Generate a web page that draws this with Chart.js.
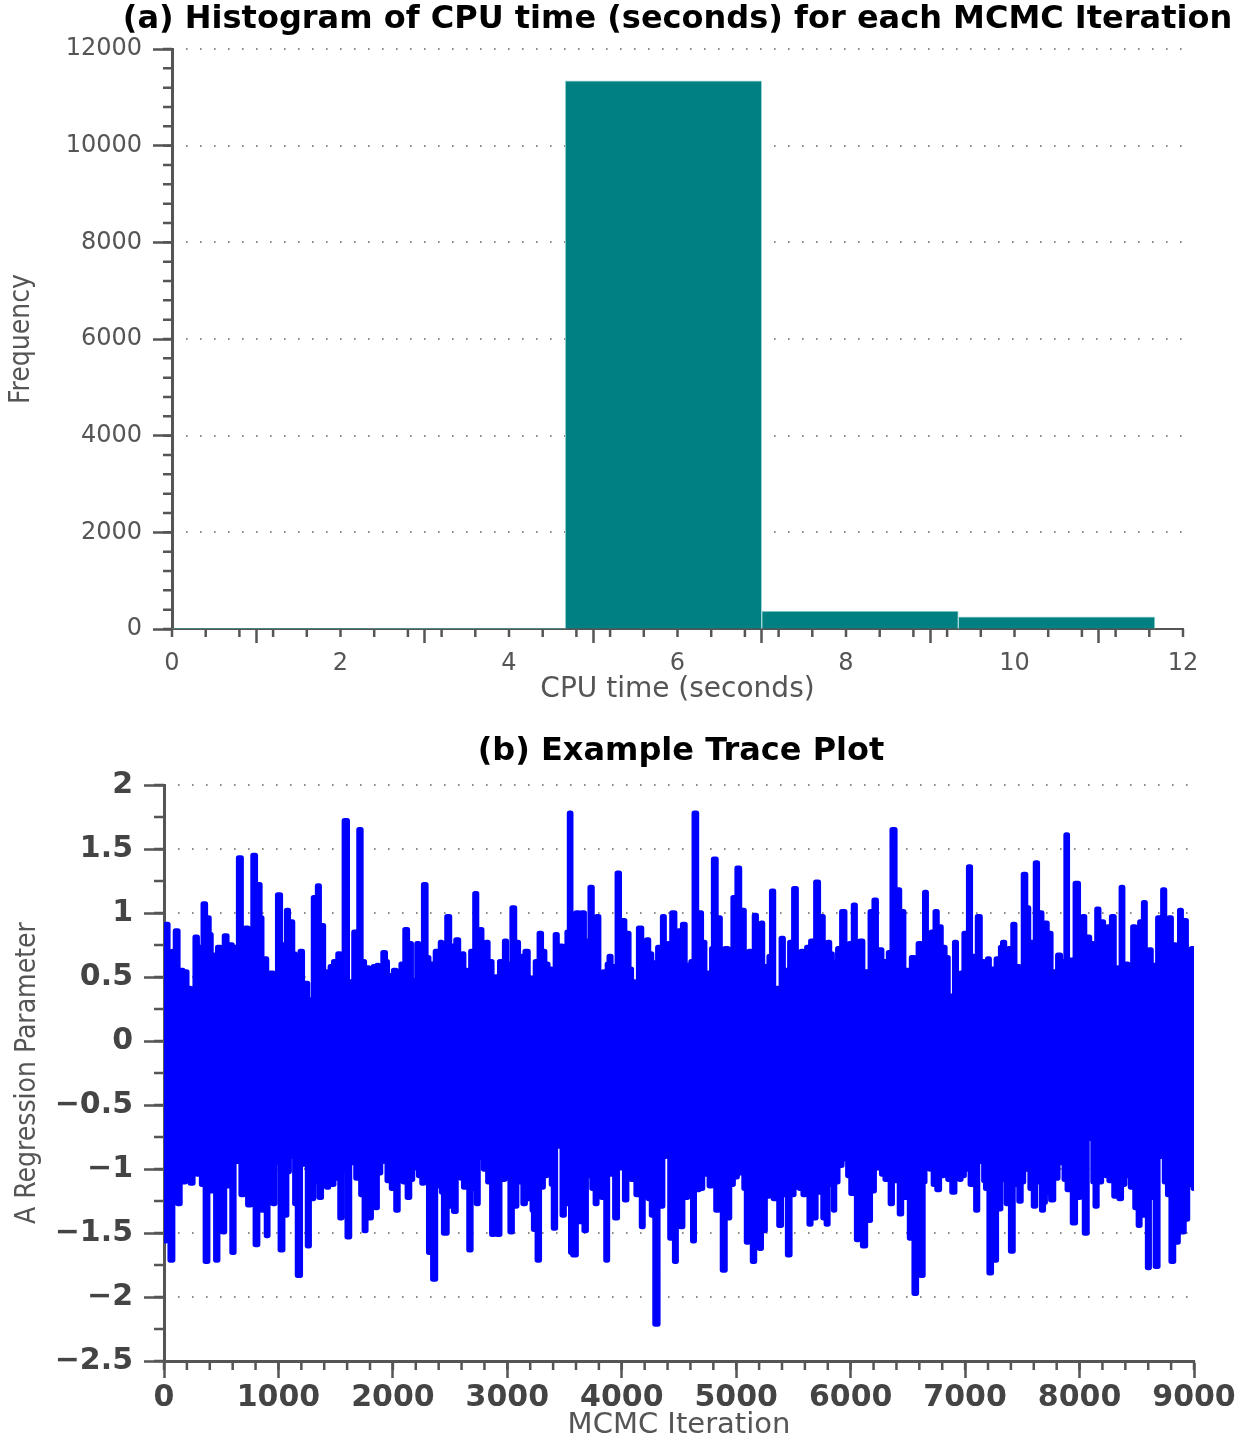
<!DOCTYPE html>
<html>
<head>
<meta charset="utf-8">
<title>CPU time and trace plot</title>
<script src="https://cdn.jsdelivr.net/npm/chart.js@4.4.0/dist/chart.umd.min.js"></script>
<style>
  body { margin: 0; background: #fff; }
  canvas { display: block; }
</style>
</head>
<body>
<canvas id="histChart" width="1246" height="710"></canvas>
<canvas id="traceChart" width="1246" height="730"></canvas>
<script>
// (a) histogram: bin edges (seconds) and counts per bin
const binEdges = [0, 2.333, 4.667, 7.0, 9.333, 11.667];
const binCounts = [3, 9, 11340, 372, 250];

// (b) trace: upper excursions (iteration, value)
const peakIters = [29, 81, 120, 157, 198, 227, 274, 315, 344, 384, 402, 425, 446, 478, 507, 536, 580, 612, 655, 696,
  728, 781, 821, 854, 888, 911, 950, 1008, 1049, 1086, 1116, 1142, 1194, 1241, 1270, 1308, 1349, 1386, 1407, 1439,
  1468, 1497, 1538, 1585, 1625, 1666, 1719, 1745, 1771, 1815, 1845, 1873, 1917, 1950, 1981, 2018, 2053, 2083, 2112, 2150,
  2173, 2193, 2222, 2252, 2281, 2310, 2339, 2385, 2426, 2484, 2519, 2560, 2588, 2616, 2645, 2683, 2724, 2750, 2776, 2820,
  2863, 2901, 2942, 2988, 3023, 3058, 3096, 3132, 3169, 3218, 3250, 3285, 3317, 3349, 3382, 3423, 3480, 3513, 3527, 3554,
  3611, 3664, 3699, 3740, 3766, 3792, 3825, 3853, 3878, 3903, 3935, 3978, 4022, 4057, 4081, 4101, 4124, 4168, 4194, 4220,
  4250, 4279, 4328, 4363, 4392, 4421, 4456, 4482, 4509, 4546, 4590, 4615, 4642, 4686, 4707, 4745, 4788, 4817, 4858, 4873,
  4917, 4946, 4981, 5024, 5062, 5077, 5106, 5120, 5164, 5195, 5223, 5269, 5296, 5324, 5359, 5368, 5409, 5446, 5485, 5513,
  5540, 5569, 5604, 5630, 5659, 5703, 5752, 5778, 5805, 5828, 5848, 5863, 5895, 5939, 5966, 5994, 6038, 6067, 6096, 6145,
  6186, 6219, 6268, 6293, 6318, 6344, 6376, 6416, 6451, 6498, 6539, 6577, 6606, 6650, 6685, 6711, 6743, 6784, 6822, 6848,
  6868, 6915, 6950, 6970, 6993, 7034, 7072, 7087, 7116, 7163, 7200, 7238, 7253, 7276, 7316, 7342, 7386, 7427, 7471, 7515,
  7547, 7561, 7590, 7625, 7669, 7701, 7736, 7783, 7820, 7852, 7884, 7931, 7980, 8006, 8033, 8076, 8111, 8155, 8202, 8222,
  8251, 8295, 8330, 8371, 8412, 8435, 8476, 8502, 8528, 8563, 8610, 8645, 8688, 8738, 8764, 8790, 8831, 8878, 8927, 8950,
  8989];
const peaks = [0.91, 0.70, 0.86, 0.55, 0.54, 0.41, 0.81, 0.73, 1.07, 0.96, 0.83, 0.67, 0.64, 0.73, 0.70, 0.82, 0.75, 0.73, 1.43, 0.77,
  0.88, 1.45, 1.22, 0.96, 0.64, 0.38, 0.53, 1.14, 0.75, 1.02, 0.93, 0.68, 0.70, 0.45, 0.32, 1.12, 1.21, 0.90, 0.54, 0.47,
  0.58, 0.62, 0.68, 1.72, 0.46, 0.85, 1.65, 0.62, 0.57, 0.45, 0.58, 0.59, 0.69, 0.62, 0.51, 0.55, 0.53, 0.60, 0.87, 0.76,
  0.47, 0.38, 0.76, 0.66, 1.22, 0.65, 0.60, 0.70, 0.77, 0.97, 0.74, 0.79, 0.62, 0.68, 0.55, 0.70, 1.15, 0.70, 0.87, 0.77,
  0.62, 0.50, 0.62, 0.78, 0.60, 1.04, 0.77, 0.66, 0.70, 0.49, 0.62, 0.84, 0.70, 0.60, 0.56, 0.83, 0.74, 0.63, 0.85, 1.78,
  1.00, 1.00, 0.78, 1.20, 0.72, 0.97, 0.51, 0.54, 0.60, 0.66, 0.58, 1.31, 0.94, 0.84, 0.56, 0.46, 0.43, 0.88, 0.70, 0.79,
  0.68, 0.61, 0.73, 0.97, 0.66, 0.76, 1.00, 0.72, 0.86, 0.91, 0.59, 0.62, 1.78, 1.00, 0.77, 0.53, 0.72, 1.42, 0.96, 0.68,
  0.72, 0.64, 1.12, 1.35, 1.02, 0.50, 0.52, 0.70, 0.98, 0.70, 0.92, 0.58, 0.66, 1.17, 0.41, 0.30, 0.80, 0.55, 0.77, 1.19,
  0.66, 0.70, 0.52, 0.73, 0.78, 1.24, 0.97, 0.70, 0.77, 0.68, 0.62, 0.58, 0.72, 1.01, 0.72, 0.76, 1.06, 0.70, 0.78, 0.54,
  1.01, 1.10, 0.71, 0.62, 0.56, 0.69, 1.65, 1.18, 1.01, 0.55, 0.65, 0.39, 0.76, 1.16, 0.52, 0.85, 1.01, 0.89, 0.73, 0.65,
  0.35, 0.77, 0.50, 0.53, 0.84, 1.36, 0.66, 0.47, 0.97, 0.62, 0.64, 0.56, 0.41, 0.64, 0.73, 0.77, 0.72, 0.91, 0.58, 1.30,
  1.04, 0.71, 0.77, 1.39, 1.00, 0.92, 0.84, 0.54, 0.67, 0.62, 1.61, 0.63, 1.23, 0.75, 0.97, 0.81, 0.76, 1.03, 0.93, 0.50,
  0.89, 0.97, 0.57, 1.20, 0.60, 0.35, 0.89, 0.70, 0.93, 1.08, 0.71, 0.59, 0.96, 1.18, 0.80, 0.96, 0.75, 1.02, 0.94, 0.66,
  0.72];

// (b) trace: lower excursions (iteration, value)
const troughIters = [9, 38, 70, 122, 172, 200, 233, 271, 306, 342, 379, 419, 460, 521, 562, 609, 649, 693, 737, 775,
  815, 854, 903, 955, 979, 1025, 1057, 1086, 1101, 1130, 1145, 1188, 1223, 1267, 1305, 1335, 1363, 1400, 1436, 1470,
  1503, 1538, 1567, 1617, 1654, 1689, 1722, 1756, 1806, 1852, 1873, 1911, 1951, 1995, 2036, 2062, 2100, 2141, 2170, 2199,
  2228, 2257, 2295, 2316, 2359, 2406, 2426, 2461, 2505, 2543, 2586, 2601, 2621, 2650, 2680, 2710, 2738, 2776, 2811, 2840,
  2866, 2895, 2925, 2965, 2994, 3026, 3067, 3096, 3120, 3143, 3192, 3218, 3242, 3274, 3309, 3335, 3358, 3390, 3417, 3446,
  3480, 3518, 3533, 3554, 3591, 3638, 3679, 3708, 3740, 3772, 3804, 3825, 3871, 3906, 3944, 3978, 4028, 4066, 4086, 4127,
  4177, 4218, 4247, 4270, 4302, 4351, 4377, 4421, 4468, 4518, 4558, 4596, 4625, 4663, 4704, 4742, 4785, 4829, 4860, 4887,
  4937, 4965, 4992, 5033, 5048, 5075, 5103, 5130, 5155, 5185, 5214, 5236, 5280, 5327, 5355, 5379, 5411, 5452, 5494, 5534,
  5568, 5601, 5645, 5689, 5732, 5765, 5797, 5825, 5855, 5880, 5907, 5957, 5985, 6012, 6040, 6064, 6113, 6157, 6192, 6227,
  6274, 6310, 6350, 6396, 6437, 6475, 6504, 6525, 6571, 6618, 6645, 6670, 6700, 6735, 6766, 6795, 6824, 6853, 6903, 6930,
  6955, 6990, 7028, 7057, 7101, 7145, 7165, 7195, 7220, 7270, 7305, 7346, 7377, 7410, 7440, 7471, 7505, 7541, 7575, 7605,
  7637, 7669, 7698, 7730, 7762, 7800, 7844, 7881, 7902, 7946, 7998, 8025, 8054, 8097, 8125, 8149, 8180, 8214, 8240, 8266,
  8307, 8333, 8359, 8382, 8406, 8430, 8456, 8493, 8526, 8557, 8582, 8607, 8639, 8680, 8718, 8747, 8776, 8811, 8849, 8873,
  8898, 8936, 8968, 9000];
const troughs = [-1.56, -1.22, -1.71, -1.27, -1.10, -1.05, -1.11, -0.99, -1.04, -1.12, -1.72, -1.17, -1.71, -1.49, -1.13, -1.65, -0.94, -1.20, -1.28, -1.15,
  -1.59, -1.32, -1.52, -1.27, -0.95, -1.63, -1.36, -1.02, -0.84, -0.90, -1.27, -1.83, -0.96, -1.60, -1.23, -1.10, -1.22, -1.12, -1.14, -1.12,
  -1.07, -1.38, -1.01, -1.53, -0.95, -1.07, -1.20, -1.48, -1.38, -1.30, -1.03, -0.94, -1.09, -1.15, -1.32, -0.96, -1.10, -1.22, -1.08, -0.99,
  -1.05, -1.11, -0.94, -1.65, -1.86, -1.13, -1.18, -1.50, -1.29, -1.33, -0.95, -1.07, -1.14, -1.10, -1.63, -1.15, -1.27, -0.91, -1.00, -1.10,
  -1.51, -1.12, -1.51, -1.08, -0.85, -1.49, -1.29, -0.98, -1.10, -1.27, -1.23, -1.32, -1.47, -1.71, -1.14, -1.05, -1.00, -1.12, -1.46, -0.82,
  -1.36, -1.27, -1.08, -1.65, -1.67, -1.41, -1.48, -1.05, -1.15, -1.27, -1.05, -1.22, -1.71, -1.04, -1.38, -0.99, -1.24, -0.78, -1.08, -1.20,
  -1.45, -1.13, -1.23, -1.36, -2.21, -1.29, -0.90, -1.54, -1.72, -1.45, -1.22, -1.09, -1.56, -1.16, -1.15, -1.04, -1.13, -1.32, -1.15, -1.79,
  -1.38, -1.12, -1.06, -0.91, -1.03, -1.15, -1.57, -1.20, -1.72, -1.25, -1.62, -1.48, -1.21, -1.23, -1.15, -1.44, -1.20, -1.67, -1.20, -1.14,
  -1.15, -1.20, -1.43, -1.38, -1.18, -1.38, -1.43, -1.12, -1.32, -1.10, -0.97, -0.92, -1.05, -1.19, -1.10, -1.55, -1.60, -1.40, -1.17, -0.99,
  -1.04, -1.08, -1.27, -1.09, -1.35, -1.22, -1.17, -1.54, -1.97, -1.83, -1.10, -0.98, -1.00, -1.12, -1.16, -1.05, -0.94, -1.08, -1.18, -1.05,
  -1.08, -1.05, -1.00, -1.12, -1.32, -0.94, -1.09, -1.15, -1.81, -1.71, -1.31, -1.08, -1.27, -1.64, -1.12, -1.25, -1.10, -1.00, -1.15, -1.29,
  -1.10, -1.32, -1.26, -1.18, -1.24, -1.07, -0.95, -1.08, -1.16, -1.42, -1.22, -1.12, -1.50, -0.76, -1.10, -1.29, -1.10, -1.04, -1.05, -1.09,
  -1.21, -1.10, -1.23, -1.12, -0.93, -1.05, -1.14, -1.30, -1.44, -1.36, -1.15, -1.77, -1.22, -1.76, -0.90, -1.10, -1.20, -1.72, -1.57, -1.15,
  -1.49, -1.39, -1.12, -1.15];

const AXIS = '#555';

// dotted grid at the major y ticks plus minor tick marks on both axes
const axisDecor = {
  id: 'axisDecor',
  beforeDatasetsDraw(chart, args, opts) {
    const { ctx, chartArea: a, scales: { y } } = chart;
    ctx.save();
    ctx.strokeStyle = '#666';
    ctx.lineWidth = 1.6;
    ctx.setLineDash([1.6, 12.4]);
    y.ticks.forEach(t => {
      if (t.value === y.min) return;
      const py = Math.round(y.getPixelForValue(t.value));
      ctx.beginPath();
      ctx.moveTo(a.left + 14, py);
      ctx.lineTo(a.right + 2, py);
      ctx.stroke();
    });
    ctx.restore();
  },
  afterDraw(chart, args, opts) {
    const { ctx, chartArea: a, scales: { x, y } } = chart;
    ctx.save();
    ctx.strokeStyle = AXIS;
    ctx.lineWidth = opts.width;
    ctx.beginPath();
    const nx = Math.round((x.max - x.min) / opts.xStep);
    for (let i = 0; i <= nx; i++) {
      const px = x.getPixelForValue(x.min + i * opts.xStep);
      ctx.moveTo(px, a.bottom);
      ctx.lineTo(px, a.bottom + opts.xLen);
    }
    const ny = Math.round((y.max - y.min) / opts.yStep);
    for (let i = 0; i <= ny; i++) {
      const py = y.getPixelForValue(y.min + i * opts.yStep);
      ctx.moveTo(a.left - opts.yLen, py);
      ctx.lineTo(a.left, py);
    }
    ctx.stroke();
    ctx.restore();
  }
};

// bold heading centred over the plot area
const heading = {
  id: 'heading',
  afterDraw(chart, args, opts) {
    const { ctx, chartArea: a } = chart;
    ctx.save();
    ctx.font = 'bold ' + opts.size + 'px "DejaVu Sans", sans-serif';
    ctx.fillStyle = '#000';
    ctx.textAlign = 'center';
    ctx.textBaseline = 'middle';
    ctx.fillText(opts.text, (a.left + a.right) / 2 + opts.dx, opts.y);
    ctx.restore();
  }
};

function pinX(height) {
  return s => { s.height = height; s.paddingLeft = 0; s.paddingRight = 0; };
}
function pinY(width) {
  return s => { s.width = width; s.paddingTop = 0; s.paddingBottom = 0; };
}
const minus = v => String(v).replace('-', '\u2212');

// ---- (a) histogram ----
const histBars = binCounts.map((c, i) => ({ x: (binEdges[i] + binEdges[i + 1]) / 2, y: c }));

new Chart(document.getElementById('histChart'), {
  type: 'bar',
  data: {
    datasets: [{
      data: histBars,
      xAxisID: 'bins',
      backgroundColor: '#008080',
      borderColor: '#a6d8d8',
      borderWidth: 1,
      barPercentage: 1,
      categoryPercentage: 1
    }]
  },
  options: {
    responsive: false,
    animation: false,
    layout: { padding: { top: 49, right: 63, left: 0, bottom: 0 } },
    plugins: {
      legend: { display: false },
      tooltip: { enabled: false },
      heading: { text: '(a) Histogram of CPU time (seconds) for each MCMC Iteration', size: 32, y: 20, dx: 0 },
      axisDecor: { xStep: 0.4, xLen: 8, yStep: 400, yLen: 9, width: 2.5 }
    },
    scales: {
      // hidden axis that carries the bars, so bar width follows the bin spacing only
      bins: {
        type: 'linear', axis: 'x', position: 'bottom', display: false,
        min: 0, max: 12, offset: false, ticks: { stepSize: 12 }
      },
      x: {
        type: 'linear', min: 0, max: 12, offset: false,
        afterFit: pinX(81),
        ticks: { stepSize: 2, padding: 6, color: AXIS, font: { family: 'DejaVu Sans', size: 24 } },
        grid: { drawOnChartArea: false, tickLength: 14, tickColor: AXIS, tickWidth: 2.5 },
        border: { color: AXIS, width: 2 },
        title: { display: true, text: 'CPU time (seconds)', color: AXIS,
          font: { family: 'DejaVu Sans', size: 28, lineHeight: 1.2 }, padding: { top: 0, bottom: 3 } }
      },
      y: {
        min: 0, max: 12000,
        afterFit: pinY(172),
        ticks: { stepSize: 2000, padding: 11, color: AXIS, callback: v => String(v),
          font: { family: 'DejaVu Sans', size: 24 } },
        grid: { drawOnChartArea: false, tickLength: 19, tickColor: AXIS, tickWidth: 2.5 },
        border: { color: AXIS, width: 3 },
        title: { display: true, text: 'Frequency', color: AXIS,
          font: { family: '"Liberation Sans Narrow", "DejaVu Sans Condensed", sans-serif', size: 28, lineHeight: 1.2 },
          padding: { top: 5, bottom: 0 } }
      }
    }
  },
  plugins: [axisDecor, heading]
});

// ---- (b) trace plot ----
const tracePoints = peakIters.map((it, i) => ({ x: it, y: peaks[i] }))
  .concat(troughIters.map((it, i) => ({ x: it, y: troughs[i] })))
  .sort((p, q) => p.x - q.x);

new Chart(document.getElementById('traceChart'), {
  type: 'line',
  data: {
    datasets: [{
      data: tracePoints,
      borderColor: '#0000ff',
      borderWidth: 5.5,
      borderJoinStyle: 'round',
      borderCapStyle: 'round',
      stepped: 'middle',
      pointRadius: 0,
      fill: false
    }]
  },
  options: {
    responsive: false,
    animation: false,
    layout: { padding: { top: 75, right: 52, left: 0, bottom: 0 } },
    plugins: {
      legend: { display: false },
      tooltip: { enabled: false },
      heading: { text: '(b) Example Trace Plot', size: 32, y: 42, dx: 2 },
      axisDecor: { xStep: 200, xLen: 9, yStep: 0.25, yLen: 10, width: 2.5 }
    },
    scales: {
      x: {
        type: 'linear', min: 0, max: 9000,
        afterFit: pinX(79),
        ticks: { stepSize: 1000, padding: 2, color: '#444', callback: v => String(v),
          font: { family: 'DejaVu Sans', size: 30, weight: 'bold' } },
        grid: { drawOnChartArea: false, tickLength: 17, tickColor: AXIS, tickWidth: 2.5 },
        border: { color: AXIS, width: 3 },
        title: { display: true, text: 'MCMC Iteration', color: AXIS,
          font: { family: 'DejaVu Sans', size: 29, lineHeight: 1.0 }, padding: { top: 0, bottom: 0 } }
      },
      y: {
        min: -2.5, max: 2,
        afterFit: pinY(164),
        ticks: { stepSize: 0.5, padding: 11, color: '#444', callback: minus,
          font: { family: 'DejaVu Sans', size: 30, weight: 'bold' } },
        grid: { drawOnChartArea: false, tickLength: 20, tickColor: AXIS, tickWidth: 2.5 },
        border: { color: AXIS, width: 3 },
        title: { display: true, text: 'A Regression Parameter', color: AXIS,
          font: { family: '"Liberation Sans Narrow", "DejaVu Sans Condensed", sans-serif', size: 28, lineHeight: 1.2 },
          padding: { top: 11, bottom: 0 } }
      }
    }
  },
  plugins: [axisDecor, heading]
});
</script>
</body>
</html>
